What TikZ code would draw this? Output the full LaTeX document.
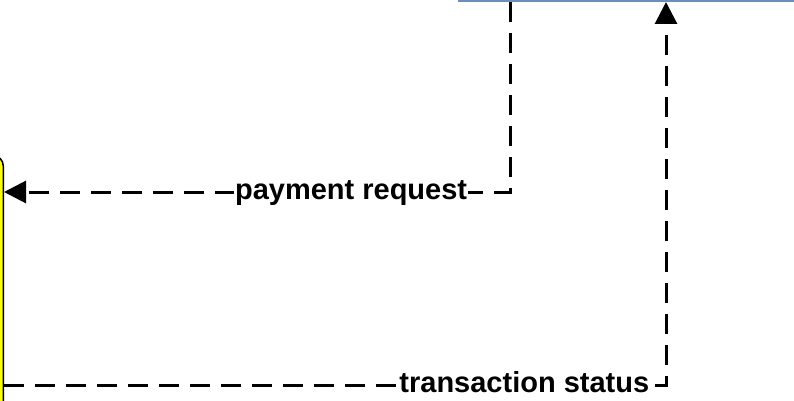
\documentclass[tikz,border=0pt]{standalone}
\usepackage{fontspec}
\setmainfont{Liberation Sans}
\usetikzlibrary{arrows.meta,calc}
\definecolor{boxblue}{RGB}{108,142,191}
\definecolor{boxyellow}{RGB}{255,255,0}
\tikzset{
  bluebox/.style={draw=boxblue, line width=2pt, fill=white, rectangle, inner sep=0pt},
  yellowbox/.style={draw=black, line width=1.5pt, fill=boxyellow, rectangle, rounded corners=10pt, inner sep=0pt},
  flow/.style={draw=black, line width=3pt, dash pattern=on 20pt off 11pt},
  arrowend/.style={arrows={-{Triangle[length=22pt,width=22pt]}}},
  lbl/.style={fill=white, inner sep=1pt, text height=21pt, text depth=6pt, font=\fontsize{29}{34}\selectfont\bfseries}
}
\begin{document}
\begin{tikzpicture}[x=1pt,y=-1pt]
  \useasboundingbox (0,0) rectangle (794,401);
  \clip (0,0) rectangle (794,401);
  \fill[white] (0,0) rectangle (794,401);
  \node[bluebox, minimum width=420pt, minimum height=80pt, anchor=south west] (server) at (458,2) {};
  \node[yellowbox, minimum width=200pt, minimum height=320pt, anchor=north east] (client) at (4,155) {};
  \coordinate (reqstart) at ([xshift=52pt]server.south west);
  \coordinate (stend) at ([xshift=208pt]server.south west);
  \draw[flow, arrowend] (reqstart) |- node[lbl, pos=0.657] {payment request} (client.east |- 0,192);
  \draw[flow, arrowend] (client.east |- 0,385) -| node[lbl, pos=0.393] {transaction status} (stend);
\end{tikzpicture}
\end{document}
